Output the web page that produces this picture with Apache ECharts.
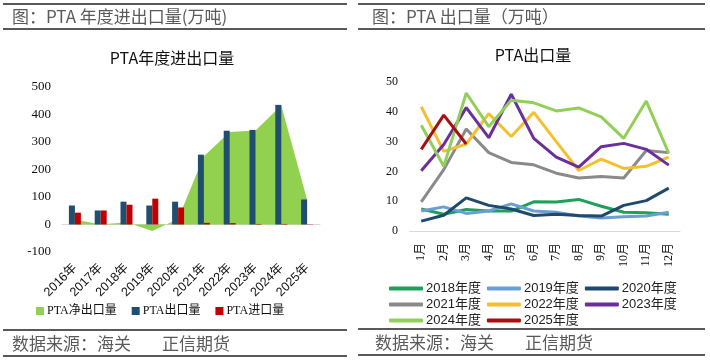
<!DOCTYPE html>
<html><head><meta charset="utf-8">
<script src="https://cdn.jsdelivr.net/npm/echarts@6.0.0/dist/echarts.min.js"></script>
<style>html,body{margin:0;padding:0;background:#fff}#c{width:710px;height:360px}</style>
</head><body><div id="c"></div>
<script>
// ---- Left chart data (万吨) ----
const years = ['2016年','2017年','2018年','2019年','2020年','2021年','2022年','2023年','2024年','2025年'];
const netExport = [18, 0, 8, -24, 20, 248, 336, 342, 433, 90];
const exportVol = [69, 51, 83, 69, 83, 254, 341, 344, 435, 91];
const importVol = [43, 51, 72, 94, 62, 6, 5, 2, 2, 1];
const leftTicks = {min: -100, max: 500, interval: 100};

// ---- Right chart data (万吨) ----
const months = ['1月','2月','3月','4月','5月','6月','7月','8月','9月','10月','11月','12月'];
const y2018 = [7.4, 5.6, 7.2, 6.7, 6.7, 9.8, 9.7, 10.6, 8.3, 6.3, 6.1, 5.6];
const y2019 = [6.7, 8.1, 5.9, 6.7, 9.1, 6.7, 6.3, 5.0, 4.4, 4.8, 5.0, 6.3];
const y2020 = [3.3, 5.3, 11.1, 8.6, 7.4, 5.2, 5.6, 5.2, 5.0, 8.6, 10.2, 14.4];
const y2021 = [9.8, 20.6, 34.2, 26.3, 23.0, 22.2, 19.4, 17.8, 18.3, 17.8, 27.0, 26.3];
const y2022 = [41.7, 26.7, 29.2, 39.4, 31.7, 39.8, 30.0, 20.3, 24.1, 21.0, 21.7, 24.8];
const y2023 = [20.2, 29.0, 41.4, 31.3, 45.9, 31.1, 24.8, 21.4, 28.3, 29.4, 27.4, 22.1];
const y2024 = [35.5, 21.7, 46.3, 35.0, 43.9, 43.0, 40.3, 41.3, 38.3, 31.1, 43.6, 26.1];
const y2025 = [27.4, 38.9, 29.2];
const rightTicks = {min: 0, max: 50, interval: 10};

const lineNames = ['2018年度','2019年度','2020年度','2021年度','2022年度','2023年度','2024年度','2025年度'];
const lineData = [y2018, y2019, y2020, y2021, y2022, y2023, y2024, y2025];
const lineColors = ['#1fa05a','#6a9fd3','#1f4a6e','#8a8a8a','#f5c030','#6b2f9a','#92cf5a','#a80f10'];

const serif = "'Liberation Serif','Noto Sans CJK SC',serif";
const sans = "'Liberation Sans','Noto Sans CJK SC',sans-serif";
const cjk = "'Noto Sans CJK SC',sans-serif";

function hline(x1, x2, y) {
  return {type:'line', shape:{x1:x1, y1:y, x2:x2, y2:y}, style:{stroke:'#222', lineWidth:1.5}, silent:true};
}
function txt(x, y, s, size, color, align) {
  return {type:'text', x:x, y:y, style:{text:s, font: size + 'px ' + cjk, fill:color, textAlign:align||'left', textVerticalAlign:'middle'}, silent:true};
}

const chart = echarts.init(document.getElementById('c'), null, {renderer:'canvas'});

const lineSeries = lineNames.map((n, i) => ({
  name: n, type: 'line', xAxisIndex: 1, yAxisIndex: 1,
  data: lineData[i], symbol: 'none', smooth: false,
  lineStyle: {width: 3, color: lineColors[i]}, itemStyle: {color: lineColors[i]},
  z: 2 + i
}));

function rightLegend(names, top) {
  return {
    data: names, left: 384, top: top, orient: 'horizontal', itemGap: 6,
    icon: 'roundRect', itemWidth: 34, itemHeight: 4,
    textStyle: {fontSize: 13, fontFamily: sans, color: '#222', padding: [0,0,0,-2]},
    selectedMode: false
  };
}

const leftGrid = {left: 62, top: 87, width: 258, height: 165};
const leftLabelMargin = 11;

const baseGraphic = [
  hline(3, 347, 4), hline(3, 347, 29), hline(3, 347, 330), hline(3, 347, 356),
  hline(358, 705, 4), hline(358, 705, 29), hline(358, 705, 329), hline(358, 705, 355),
  txt(12, 17, '图：PTA 年度进出口量(万吨)', 17, '#5a5a5a'),
  txt(372, 17, '图：PTA 出口量（万吨）', 17, '#5a5a5a'),
  txt(172, 58, 'PTA年度进出口量', 16, '#111', 'center'),
  txt(533, 55, 'PTA出口量', 16, '#111', 'center'),
  txt(12, 344, '数据来源：海关', 17, '#5a5a5a'),
  txt(162, 344, '正信期货', 17, '#5a5a5a'),
  txt(375, 343, '数据来源：海关', 17, '#5a5a5a'),
  txt(525, 343, '正信期货', 17, '#5a5a5a')
];

chart.setOption({
  animation: false,
  backgroundColor: '#fff',
  graphic: baseGraphic,
  legend: [
    {
      data: ['PTA净出口量','PTA出口量','PTA进口量'], left: 31, top: 300,
      itemGap: 15, itemWidth: 8, itemHeight: 8, icon: 'rect',
      textStyle: {fontSize: 12, fontFamily: serif, color: '#111', padding: [0,0,0,-2]},
      selectedMode: false
    },
    rightLegend(lineNames.slice(0,3), 277),
    rightLegend(lineNames.slice(3,6), 293),
    rightLegend(lineNames.slice(6,8), 309)
  ],
  grid: [
    Object.assign({}, leftGrid),
    {left: 410, top: 82, width: 270, height: 149}
  ],
  xAxis: [
    {
      type: 'category', gridIndex: 0, data: years, boundaryGap: true,
      axisLine: {onZero: true, lineStyle: {color: '#d9d9d9', width: 1}},
      axisTick: {show: false},
      axisLabel: {rotate: 45, margin: 14, fontSize: 12.5, fontFamily: sans, color: '#111', interval: 0}
    },
    {
      type: 'category', gridIndex: 1, data: months, boundaryGap: true,
      axisLine: {lineStyle: {color: '#d9d9d9', width: 1}},
      axisTick: {show: false},
      axisLabel: {rotate: 90, margin: 12, fontSize: 12, fontFamily: serif, color: '#111', interval: 0}
    }
  ],
  yAxis: [
    {
      type: 'value', gridIndex: 0, min: leftTicks.min, max: leftTicks.max, interval: leftTicks.interval,
      axisLine: {show: false}, axisTick: {show: false}, splitLine: {show: false},
      axisLabel: {margin: leftLabelMargin, fontSize: 13, fontFamily: serif, color: '#111',
                  showMinLabel: false}
    },
    {
      type: 'value', gridIndex: 1, min: rightTicks.min, max: rightTicks.max, interval: rightTicks.interval,
      axisLine: {show: false}, axisTick: {show: false}, splitLine: {show: false},
      axisLabel: {margin: 12, fontSize: 12, fontFamily: serif, color: '#111', showMinLabel: true}
    }
  ],
  series: [
    {
      name: 'PTA净出口量', type: 'line', xAxisIndex: 0, yAxisIndex: 0, data: netExport,
      symbol: 'none', lineStyle: {width: 0, color: '#92d050'}, itemStyle: {color: '#92d050'},
      areaStyle: {color: '#92d050', opacity: 1, origin: 0}, z: 1
    },
    {
      name: 'PTA出口量', type: 'bar', xAxisIndex: 0, yAxisIndex: 0, data: exportVol,
      barWidth: 6, barGap: '0%', itemStyle: {color: '#1f4e6e'}, z: 3
    },
    {
      name: 'PTA进口量', type: 'bar', xAxisIndex: 0, yAxisIndex: 0, data: importVol,
      barWidth: 6, barGap: '0%', itemStyle: {color: '#c00000'}, z: 3
    }
  ].concat(lineSeries)
});

// The axis's lowest tick label (-100) is suppressed by the library's auto layout,
// so place it at the position the library's own y scale gives for that value.
const minY = chart.convertToPixel({yAxisIndex: 0}, leftTicks.min);
chart.setOption({
  graphic: baseGraphic.concat([{
    type: 'text', x: leftGrid.left - leftLabelMargin, y: minY, silent: true, z: 100,
    style: {text: String(leftTicks.min), font: '13px ' + serif, fill: '#111',
            textAlign: 'right', textVerticalAlign: 'middle'}
  }])
});
</script>
</body></html>
